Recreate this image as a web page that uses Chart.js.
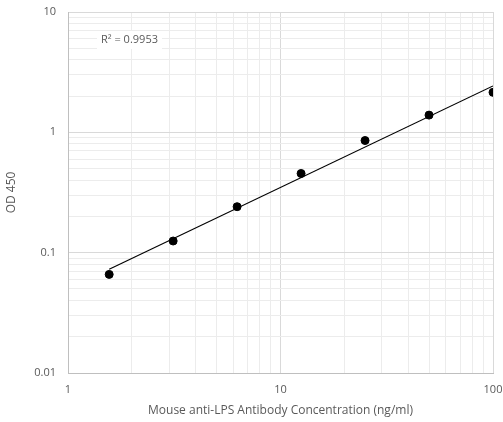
<!DOCTYPE html>
<html>
<head>
<meta charset="utf-8">
<script src="https://cdn.jsdelivr.net/npm/chart.js@4"></script>
<style>
  html, body { margin: 0; padding: 0; background: #fff; }
  #wrap { width: 503px; height: 422px; }
</style>
</head>
<body>
<div id="wrap"><canvas id="odChart"></canvas></div>
<script>
// Concentração (ng/ml) e leitura OD 450
const concentrations = [1.5625, 3.125, 6.25, 12.5, 25, 50, 100];
const odValues = [0.066, 0.125, 0.241, 0.455, 0.855, 1.39, 2.15];

// Linha de tendência (extremos)
const trendX = [1.5625, 100];
const trendY = [0.0727, 2.43];

const xTicks = [1, 2, 3, 4, 5, 6, 7, 8, 9, 10, 20, 30, 40, 50, 60, 70, 80, 90, 100];
const yTicks = [0.01, 0.02, 0.03, 0.04, 0.05, 0.06, 0.07, 0.08, 0.09,
  0.1, 0.2, 0.3, 0.4, 0.5, 0.6, 0.7, 0.8, 0.9,
  1, 2, 3, 4, 5, 6, 7, 8, 9, 10];
const rSquaredText = "R² = 0.9953";

const FONT = "'Open Sans', 'Liberation Sans', sans-serif";
const TEXT_COLOR = "#595959";

function isPow10(v) {
  const l = Math.log10(v);
  return Math.abs(l - Math.round(l)) < 1e-9;
}

function gridColor(ctx) {
  const v = ctx.tick && ctx.tick.value;
  return v !== undefined && isPow10(v) ? "#d9d9d9" : "#ececec";
}

// Texto R² com fundo branco
const r2Label = {
  id: "r2Label",
  afterDatasetsDraw(chart) {
    const c = chart.ctx;
    const area = chart.chartArea;
    c.save();
    c.font = "11px " + FONT;
    const w = c.measureText(rSquaredText).width;
    const x = area.left + 33;
    const y = area.top + 28;
    c.fillStyle = "#fff";
    c.fillRect(x - 4, y - 9, w + 8, 18);
    c.fillStyle = TEXT_COLOR;
    c.textBaseline = "middle";
    c.fillText(rSquaredText, x, y);
    c.restore();
  },
};

new Chart(document.getElementById("odChart"), {
  type: "scatter",
  data: {
    datasets: [
      {
        label: "OD 450",
        data: concentrations.map((x, i) => ({ x: x, y: odValues[i] })),
        backgroundColor: "#000",
        borderColor: "#000",
        pointRadius: 4,
        order: 1,
      },
      {
        label: "Tendência",
        type: "line",
        data: trendX.map((x, i) => ({ x: x, y: trendY[i] })),
        borderColor: "#000",
        borderWidth: 1.2,
        pointRadius: 0,
        fill: false,
        order: 2,
      },
    ],
  },
  plugins: [r2Label],
  options: {
    responsive: true,
    maintainAspectRatio: false,
    animation: false,
    layout: { padding: { top: 12, right: 10, left: 0, bottom: 0 } },
    plugins: {
      legend: { display: false },
      tooltip: { enabled: false },
    },
    scales: {
      x: {
        type: "logarithmic",
        min: 1,
        max: 100,
        afterBuildTicks: (scale) => {
          scale.ticks = xTicks.map((v) => ({ value: v, major: isPow10(v) }));
        },
        afterFit: (scale) => {
          scale.height = 49;
          scale.paddingLeft = 0;
          scale.paddingRight = 0;
        },
        ticks: {
          autoSkip: false,
          maxRotation: 0,
          padding: 10,
          color: TEXT_COLOR,
          font: { family: FONT, size: 11 },
          callback: (v) => (isPow10(v) ? String(v) : ""),
        },
        grid: {
          color: gridColor,
          drawTicks: false,
        },
        border: { color: "#bfbfbf", width: 1 },
        title: {
          display: true,
          text: "Mouse anti-LPS Antibody Concentration (ng/ml)",
          color: TEXT_COLOR,
          font: { family: FONT, size: 12 },
          padding: { top: 3 },
        },
      },
      y: {
        type: "logarithmic",
        min: 0.01,
        max: 10,
        afterBuildTicks: (scale) => {
          scale.ticks = yTicks.map((v) => ({ value: v, major: isPow10(v) }));
        },
        afterFit: (scale) => {
          scale.width = 68;
          scale.paddingTop = 0;
          scale.paddingBottom = 0;
        },
        ticks: {
          autoSkip: false,
          padding: 12,
          color: TEXT_COLOR,
          font: { family: FONT, size: 11 },
          callback: (v) => (isPow10(v) ? String(Number(v.toPrecision(3))) : ""),
        },
        grid: {
          color: gridColor,
          drawTicks: false,
        },
        border: { color: "#bfbfbf", width: 1 },
        title: {
          display: true,
          text: "OD 450",
          color: TEXT_COLOR,
          font: { family: FONT, size: 12 },
        },
      },
    },
  },
});
</script>
</body>
</html>
